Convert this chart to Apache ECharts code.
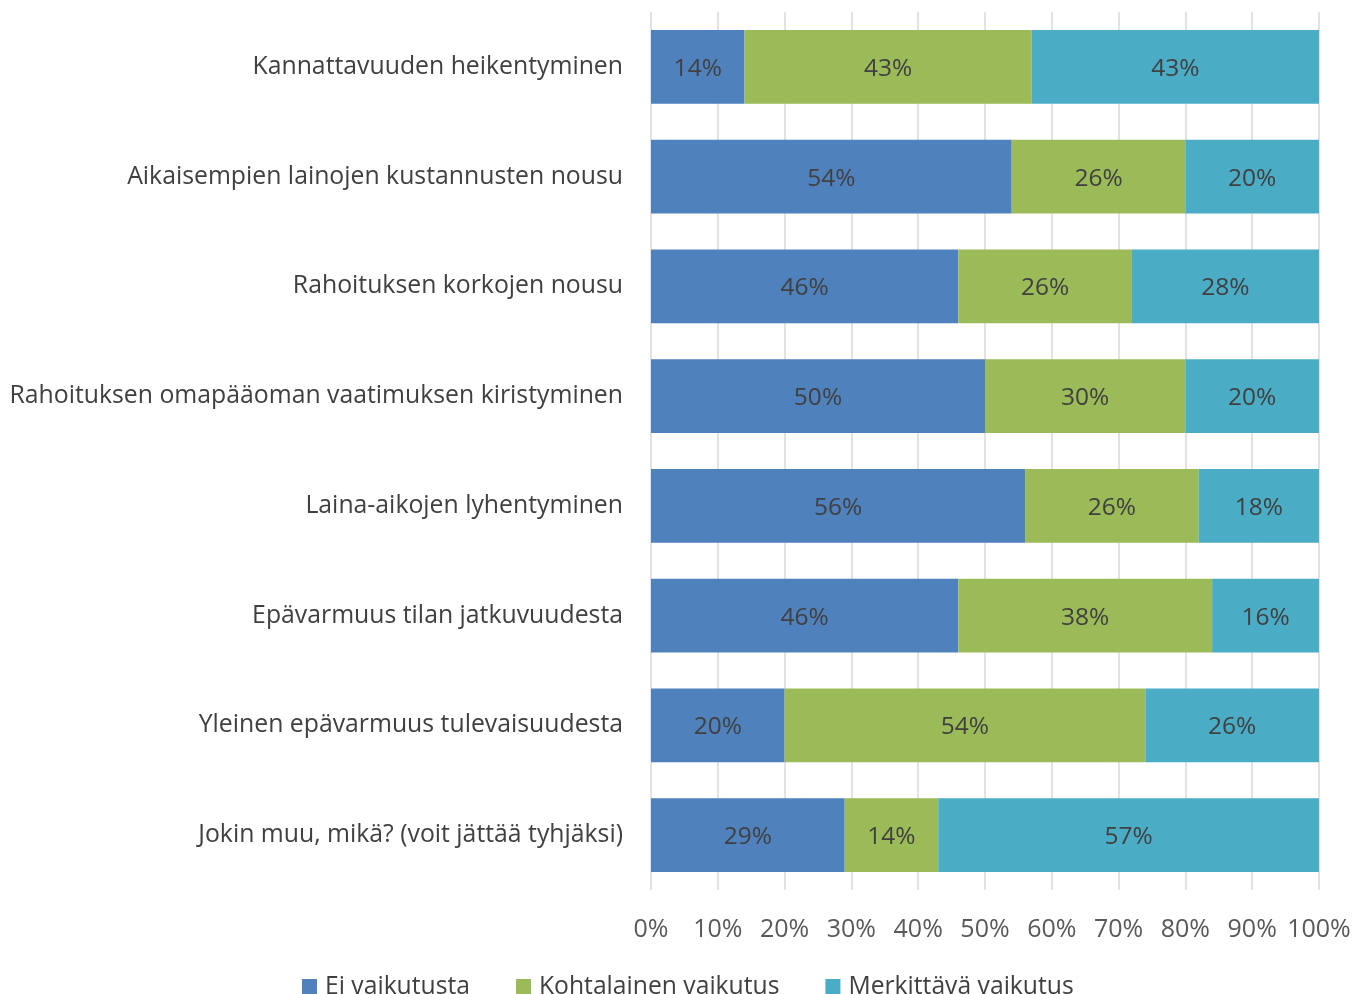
<!DOCTYPE html>
<html lang="fi">
<head>
  <meta charset="UTF-8">
  <title>Vaikutukset</title>
</head>
<body style="margin:0;background:#fff;">
  <div id="main" style="width:1354px;height:994px;"></div>
  <script src="https://cdn.jsdelivr.net/npm/echarts@6/dist/echarts.min.js"></script>
  <script>
    const categories = [
      'Kannattavuuden heikentyminen',
      'Aikaisempien lainojen kustannusten nousu',
      'Rahoituksen korkojen nousu',
      'Rahoituksen omapääoman vaatimuksen kiristyminen',
      'Laina-aikojen lyhentyminen',
      'Epävarmuus tilan jatkuvuudesta',
      'Yleinen epävarmuus tulevaisuudesta',
      'Jokin muu, mikä? (voit jättää tyhjäksi)'
    ];
    const eiVaikutusta = [14, 54, 46, 50, 56, 46, 20, 29];
    const kohtalainen = [43, 26, 26, 30, 26, 38, 54, 14];
    const merkittava = [43, 20, 28, 20, 18, 16, 26, 57];

    const font = 'Open Sans';
    const chart = echarts.init(document.getElementById('main'));

    const mkSeries = (name, data, color) => ({
      name: name,
      type: 'bar',
      stack: 'total',
      data: data,
      barCategoryGap: '33%',
      itemStyle: { color: color },
      label: {
        show: true,
        formatter: '{c}%',
        color: '#404040',
        fontFamily: font,
        fontSize: 24.5,
        offset: [0, 2]
      }
    });

    chart.setOption({
      animation: false,
      textStyle: { fontFamily: font },
      grid: { left: 651, right: 35, top: 12, bottom: 104, containLabel: false },
      xAxis: {
        type: 'value',
        min: 0,
        max: 100,
        interval: 10,
        axisLine: { show: false },
        axisTick: { show: false },
        splitLine: { lineStyle: { color: '#d9d9d9', width: 1.5 } },
        axisLabel: {
          formatter: '{value}%',
          color: '#595959',
          fontFamily: font,
          fontSize: 25,
          margin: 27
        }
      },
      yAxis: {
        type: 'category',
        inverse: true,
        data: categories,
        axisLine: { show: false },
        axisTick: { show: false },
        axisLabel: {
          color: '#404040',
          fontFamily: font,
          fontSize: 24.8,
          margin: 28
        }
      },
      legend: {
        top: 974,
        left: 302,
        itemWidth: 15,
        itemHeight: 15,
        itemGap: 46,
        icon: 'rect',
        padding: 0,
        textStyle: {
          color: '#404040', fontFamily: font, fontSize: 24.7,
          lineHeight: 18, padding: [0, 0, 0, 3]
        },
        data: ['Ei vaikutusta', 'Kohtalainen vaikutus', 'Merkittävä vaikutus']
      },
      series: [
        mkSeries('Ei vaikutusta', eiVaikutusta, '#4f81bd'),
        mkSeries('Kohtalainen vaikutus', kohtalainen, '#9bbb59'),
        mkSeries('Merkittävä vaikutus', merkittava, '#4bacc6')
      ]
    });
  </script>
</body>
</html>
